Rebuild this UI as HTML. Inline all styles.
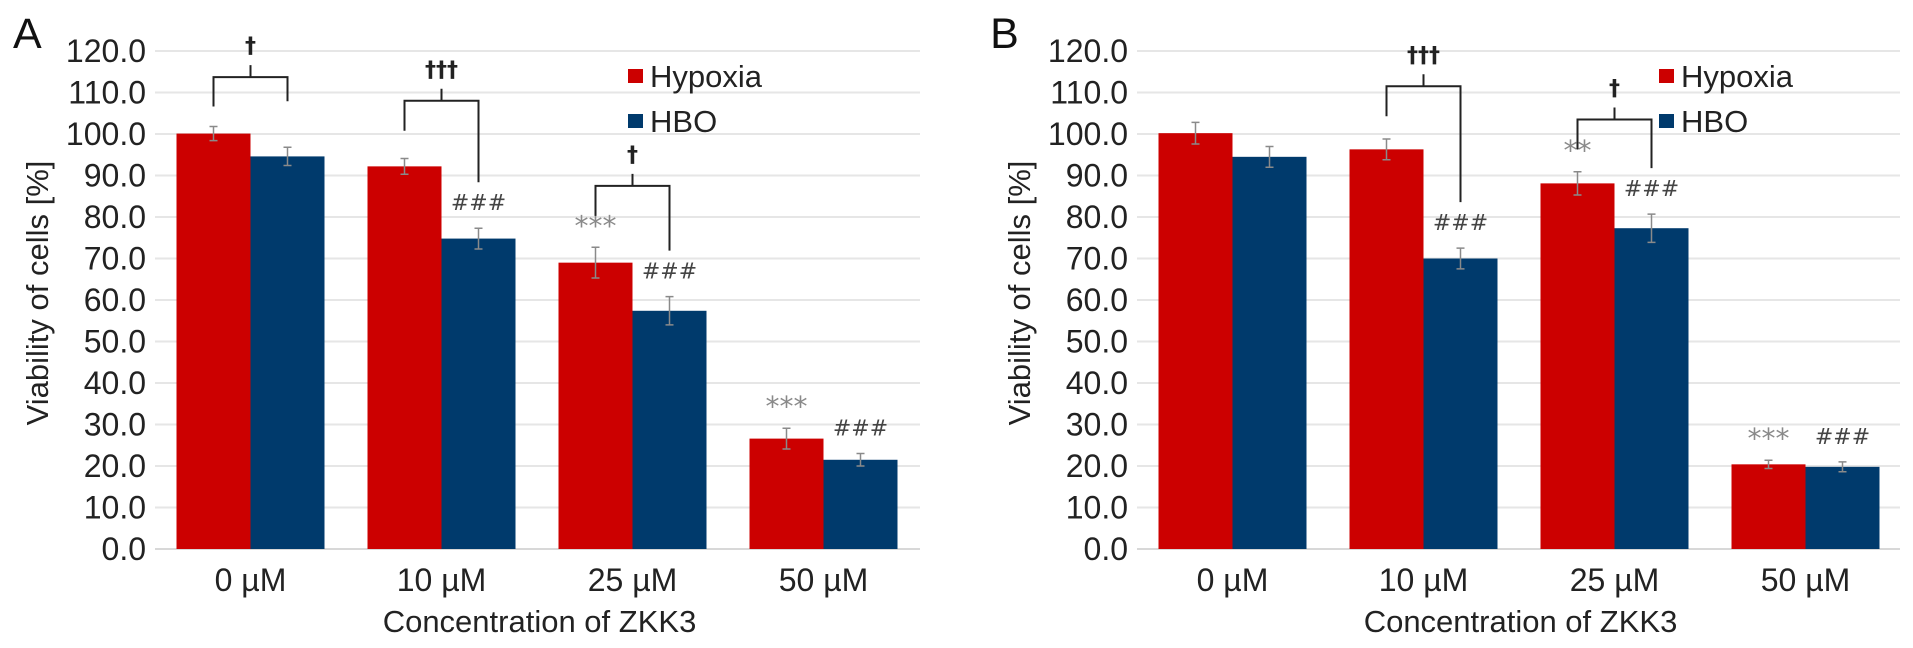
<!DOCTYPE html>
<html><head><meta charset="utf-8"><style>
html,body{margin:0;padding:0;background:#fff;}
svg{display:block;font-family:"Liberation Sans",sans-serif;}
</style></head><body>
<svg id="chart" width="1913" height="648" viewBox="0 0 1913 648" xmlns="http://www.w3.org/2000/svg"></svg>
<script>
const categories = ["0 \u00b5M","10 \u00b5M","25 \u00b5M","50 \u00b5M"];
const yTicks = [0,10,20,30,40,50,60,70,80,90,100,110,120];
const seriesNames = ["Hypoxia","HBO"];
const hypoxiaA = [100.1, 92.2, 69.0, 26.6];
const hboA = [94.6, 74.8, 57.4, 21.5];
const hypoxiaErrA = [1.7, 1.9, 3.7, 2.5];
const hboErrA = [2.2, 2.5, 3.4, 1.5];
const hypoxiaB = [100.2, 96.3, 88.1, 20.4];
const hboB = [94.5, 70.0, 77.3, 19.8];
const hypoxiaErrB = [2.6, 2.5, 2.8, 1.0];
const hboErrB = [2.5, 2.5, 3.4, 1.2];
const hypMarksA = ["", "", "***", "***"];
const hboMarksA = ["", "###", "###", "###"];
const hypMarksB = ["", "", "**", "***"];
const hboMarksB = ["", "###", "###", "###"];
const bracketsA = [{cat:0, level:113.7, label:"\u2020"},{cat:1, level:108, label:"\u2020\u2020\u2020"},{cat:2, level:87.5, label:"\u2020"}];
const bracketsB = [{cat:1, level:111.5, label:"\u2020\u2020\u2020"},{cat:2, level:103.5, label:"\u2020"}];

const svg = document.getElementById('chart');
const NS = "http://www.w3.org/2000/svg";
function mk(tag, attrs, parent){
  const e = document.createElementNS(NS, tag);
  for (const k in attrs) e.setAttribute(k, attrs[k]);
  (parent||svg).appendChild(e);
  return e;
}
const RED = "#cc0000", BLUE = "#003a6c";
const Y0 = 549, YTOP = 51, YMAX = 120;
function yScale(v){ return Y0 - (v / YMAX) * (Y0 - YTOP); }

function panel(off, letter, hyp, hbo, hypErr, hboErr, hypMarks, hboMarks, brackets, legendX, plotRight){
  const g = mk('g', {});
  
  
  const plotL = 155 + off, band = 191, barW = 74;
  const xCenter = i => plotL + band/2 + i*band;
  yTicks.forEach(t => {
    const y = yScale(t);
    const l = mk('line', {x1:plotL, x2:plotRight, y1:y, y2:y, stroke: t===0 ? '#d8d8d8' : '#e6e6e6', 'stroke-width':2}, g);
    
    
    const tx = mk('text', {x:plotL-9, y:y+11, 'text-anchor':'end', 'font-size':32, fill:'#222'}, g);
    tx.textContent = t.toFixed(1);
    
    
  });
  const pl = mk('text', {x:13+off*0.995, y:48, 'font-size':43, fill:'#111'}, g);
  pl.textContent = letter;
  
  
  const yt = mk('text', {x:0, y:0, transform:'translate(' + (48+off) + ',293) rotate(-90)', 'text-anchor':'middle', 'font-size':31, fill:'#222'}, g);
  yt.textContent = 'Viability of cells [%]';
  
  
  const xt = mk('text', {x:(plotL+plotRight)/2 + 2, y:632, 'text-anchor':'middle', 'font-size':31, fill:'#222'}, g);
  xt.textContent = 'Concentration of ZKK3';
  
  
  categories.forEach((c, i) => {
    const cx = xCenter(i);
    const series = [[hyp[i], hypErr[i], RED, hypMarks[i], cx - barW/2, 'hypoxia'], [hbo[i], hboErr[i], BLUE, hboMarks[i], cx + barW/2, 'hbo']];
    series.forEach(s => {
      const [v, e, col, mark, mx, nm] = s;
      const r = mk('rect', {x:mx - barW/2, y:yScale(v), width:barW, height:Y0 - yScale(v), fill:col}, g);
      
      
      const eb = mk('path', {d:'M'+mx+','+yScale(v+e)+'V'+yScale(v-e)+'M'+(mx-4)+','+yScale(v+e)+'H'+(mx+4)+'M'+(mx-4)+','+yScale(v-e)+'H'+(mx+4), stroke:'#8a8a8a', 'stroke-width':1.5, fill:'none'}, g);
      
      
      if (mark) {
        const isStar = mark[0]==='*';
        const mt = mk('text', {x:mx, y:yScale(v+e) - (isStar ? 12 : 18), 'text-anchor':'middle', 'font-size':isStar?28:22, fill:isStar?'#8a8a8a':'#444', 'font-family':'"DejaVu Sans",sans-serif'}, g);
        mt.textContent = mark;
        
        
      }
    });
    const xl = mk('text', {x:cx, y:591, 'text-anchor':'middle', 'font-size':32, fill:'#222'}, g);
    xl.textContent = c;
    
    
  });
  brackets.forEach(b => {
    const cx = xCenter(b.cat), lx = cx - barW/2, rx = cx + barW/2;
    const yh = yScale(b.level);
    const ll = yScale(hyp[b.cat] + hypErr[b.cat]) - 20;
    const rl = yScale(hbo[b.cat] + hboErr[b.cat]) - 46;
    const p = mk('path', {d:'M'+lx+','+Math.min(ll, yh+30)+'V'+yh+'H'+rx+'V'+rl+'M'+cx+','+yh+'V'+(yh-12), stroke:'#222', 'stroke-width':2, fill:'none'}, g);
    
    
    const dt = mk('text', {x:cx, y:yh-24, 'text-anchor':'middle', 'font-size':22, 'font-weight':'bold', fill:'#222', 'font-family':'"DejaVu Sans",sans-serif'}, g);
    dt.textContent = b.label;
    
    
  });
  seriesNames.forEach((n, i) => {
    const ly = 76 + i*45;
    const sq = mk('rect', {x:legendX, y:ly-7, width:15, height:14, fill:i===0?RED:BLUE}, g);
    
    
    const lt = mk('text', {x:legendX+22, y:ly+11, 'font-size':31, fill:'#222'}, g);
    lt.textContent = n;
    
    
  });
}
panel(0, 'A', hypoxiaA, hboA, hypoxiaErrA, hboErrA, hypMarksA, hboMarksA, bracketsA, 628, 920);
panel(982, 'B', hypoxiaB, hboB, hypoxiaErrB, hboErrB, hypMarksB, hboMarksB, bracketsB, 1659, 1900);
</script>
</body></html>
